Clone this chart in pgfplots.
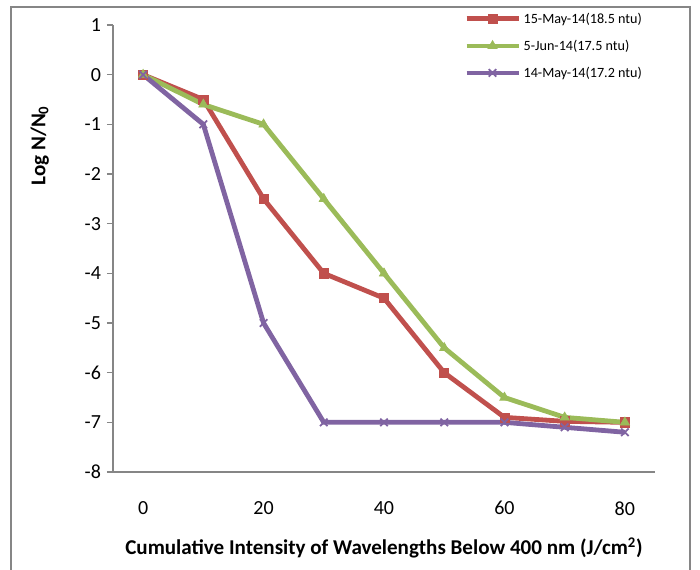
\documentclass[border=0pt]{standalone}
\usepackage{pgfplots}
\pgfplotsset{compat=1.18}
\usepackage{fontspec}
\setmainfont{Carlito}

\definecolor{exred}{HTML}{C0504D}
\definecolor{exgreen}{HTML}{9BBB59}
\definecolor{expurple}{HTML}{8064A2}
\definecolor{exgray}{HTML}{868686}

\begin{document}
\begin{tikzpicture}
% page = 700x569 px at 0.75pt/px, axis corner at (113,472) px
\useasboundingbox (-84.75pt,-72.75pt) rectangle (440.25pt,354pt);
\draw[exgray, line width=1.2pt] (-76.5pt,-85pt) -- (-76.5pt,348.75pt) -- (432.75pt,348.75pt) -- (432.75pt,-85pt);
\begin{axis}[
    at={(0pt,0pt)}, anchor=south west,
    scale only axis,
    width=406.5pt, height=335.25pt,
    xmin=-5, xmax=85,
    ymin=-8, ymax=1,
    xtick={0,20,40,60,80},
    ytick={-8,-7,...,1},
    axis x line*=bottom,
    axis y line*=left,
    axis line style={exgray, line width=1pt, -},
    x tick style={draw=none},
    y tick style={exgray, line width=1pt},
    tick align=outside,
    major tick length=4.5pt,
    /pgf/number format/assume math mode=true,
    ticklabel style={font=\fontsize{15}{17}\selectfont, black},
    xticklabel style={yshift=-14pt},
    yticklabel style={xshift=-1pt},
    xlabel={\textbf{Cumulative Intensity of Wavelengths Below 400 nm (J/cm\textsuperscript{2})}},
    xlabel style={font=\fontsize{15.8}{17}\selectfont, at={(axis description cs:0.5,0)}, anchor=center, yshift=-57pt},
    ylabel={\textbf{Log N/N\textsubscript{0}}},
    ylabel style={font=\fontsize{15.8}{17}\selectfont, at={(axis description cs:0,0.73)}, anchor=center, yshift=55pt},
    legend style={at={(0.64,1.04)}, anchor=north west, draw=none, fill=none,
        font=\fontsize{10.6}{12}\selectfont, row sep=7pt,
        legend cell align=left},
    legend image code/.code={
        \draw[#1, mark repeat=2, mark phase=2] plot coordinates {(0pt,0pt) (19.5pt,0pt) (39pt,0pt)};},
    clip=false,
]
\addplot[exred, line width=3.6pt, mark=square*, mark size=3.4pt, mark options={line width=0.5pt}]
    coordinates {(0,0)(10,-0.5)(20,-2.5)(30,-4)(40,-4.5)(50,-6)(60,-6.9)(70,-6.98)(80,-7)};
\addlegendentry{15-May-14(18.5 ntu)}
\addplot[exgreen, line width=3.6pt, mark=triangle*, mark size=4pt, mark options={line width=0.5pt}]
    coordinates {(0,0)(10,-0.6)(20,-1)(30,-2.5)(40,-4)(50,-5.5)(60,-6.5)(70,-6.9)(80,-7)};
\addlegendentry{5-Jun-14(17.5 ntu)}
\addplot[expurple, line width=3.6pt, mark=x, mark size=4pt, mark options={line width=1.3pt}]
    coordinates {(0,0)(10,-1)(20,-5)(30,-7)(40,-7)(50,-7)(60,-7)(70,-7.1)(80,-7.2)};
\addlegendentry{14-May-14(17.2 ntu)}
\end{axis}
\end{tikzpicture}
\end{document}
